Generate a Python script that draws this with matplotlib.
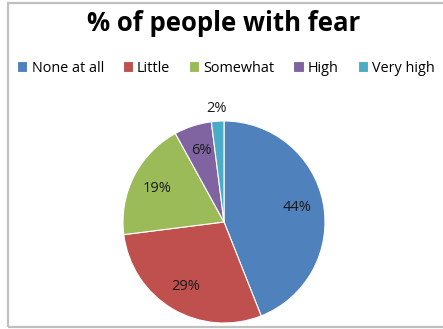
import numpy as np
import matplotlib
matplotlib.use("Agg")
import matplotlib.pyplot as plt
from matplotlib.patches import Rectangle

# parts de chaque niveau de peur
categories = ["None at all", "Little", "Somewhat", "High", "Very high"]
valeurs = [44, 29, 19, 6, 2]
couleurs = ["#4F81BD", "#C0504D", "#9BBB59", "#8064A2", "#4BACC6"]

W, H = 443, 329
fig = plt.figure(figsize=(W / 100, H / 100), dpi=100)
fig.patch.set_facecolor("white")

# cadre gris du graphique
fig.patches.append(Rectangle((8 / W, 2 / H), 1.2, 1 - 5 / H, transform=fig.transFigure,
                             fill=False, edgecolor="#C0C0C0", linewidth=1.6))

fig.text(0.505, 0.93, "% of people with fear", ha="center", va="center",
         fontsize=18.5, fontweight="bold", family="Open Sans")

# camembert
cx, cy, r = 224, 222, 101
ax = fig.add_axes([(cx - r) / W, (H - cy - r) / H, 2 * r / W, 2 * r / H])
wedges, textes, pcts = ax.pie(valeurs, colors=couleurs, startangle=90, counterclock=False,
                              autopct=lambda p: "%d%%" % round(p), pctdistance=0.74,
                              wedgeprops=dict(linewidth=0.8, edgecolor="white"),
                              textprops=dict(fontsize=10.5, color="#1a1a1a", family="Open Sans"))
ax.set_xlim(-1, 1)
ax.set_ylim(-1, 1)
ax.set_aspect("equal")

# le petit 2% est placé hors de la part
w = wedges[-1]
ang = np.deg2rad((w.theta1 + w.theta2) / 2)
pcts[-1].set_position((1.13 * np.cos(ang), 1.13 * np.sin(ang)))
pcts[-1].set_clip_on(False)

# légende en ligne sous le titre
leg = fig.legend(wedges, categories, loc="center", bbox_to_anchor=(0.51, 0.793), ncol=5,
                 frameon=False, handlelength=0.7, handleheight=0.7,
                 handletextpad=0.3, columnspacing=1.3, prop=dict(family="Open Sans", size=10.4))

fig.savefig("out.png", dpi=100, facecolor="white")
